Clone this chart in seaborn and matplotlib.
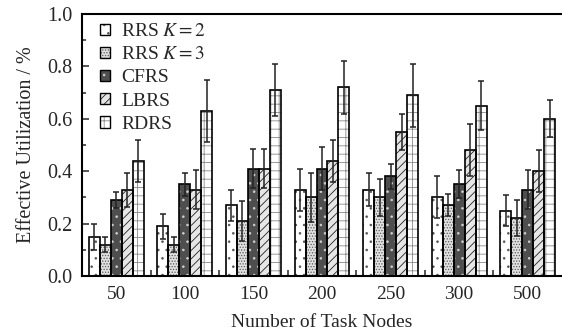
import numpy as np
import pandas as pd
import matplotlib
matplotlib.use("Agg")
import matplotlib.pyplot as plt
import seaborn as sns
from matplotlib.patches import Patch
from matplotlib.ticker import FixedLocator

# ---- data ----
nodes = ["50", "100", "150", "200", "250", "300", "500"]
methods = ["RRS $K=2$", "RRS $K=3$", "CFRS", "LBRS", "RDRS"]
rrs2 = [0.15, 0.19, 0.27, 0.33, 0.33, 0.30, 0.25]
rrs2_err = [0.05, 0.048, 0.06, 0.08, 0.063, 0.08, 0.061]
rrs3 = [0.12, 0.12, 0.21, 0.30, 0.30, 0.27, 0.22]
rrs3_err = [0.03, 0.027, 0.078, 0.095, 0.071, 0.042, 0.069]
cfrs = [0.29, 0.35, 0.41, 0.41, 0.38, 0.35, 0.33]
cfrs_err = [0.03, 0.043, 0.073, 0.083, 0.048, 0.053, 0.073]
lbrs = [0.33, 0.33, 0.41, 0.44, 0.55, 0.48, 0.40]
lbrs_err = [0.065, 0.073, 0.073, 0.08, 0.07, 0.10, 0.08]
rdrs = [0.44, 0.63, 0.71, 0.72, 0.69, 0.65, 0.60]
rdrs_err = [0.08, 0.117, 0.10, 0.10, 0.12, 0.093, 0.07]
yticks = [0.0, 0.2, 0.4, 0.6, 0.8, 1.0]
ytick_labels = ["0.0", "0.2", "0.4", "0.6", "0.8", "1.0"]

series = [rrs2, rrs3, cfrs, lbrs, rdrs]
errors = [rrs2_err, rrs3_err, cfrs_err, lbrs_err, rdrs_err]

df = pd.DataFrame({
    "node": nodes * len(methods),
    "value": sum(series, []),
    "method": sum([[m] * len(nodes) for m in methods], []),
})

# ---- style ----
sns.set_style("white")
plt.rcParams["font.family"] = ["Liberation Serif", "DejaVu Serif"]
plt.rcParams["mathtext.fontset"] = "stix"
plt.rcParams["hatch.linewidth"] = 0.6

faces = ["#ffffff", "#e0e0e0", "#4e4e4e", "#e6e6e6", "#ffffff"]
hatch_cols = ["#555555", "#5a5a5a", "#d0d0d0", "#222222", "#8a8a8a"]
hatches = ["..", "......", "..", "////", "++"]

fig = plt.figure(figsize=(5.62, 3.32), dpi=100)
ax = fig.add_axes([82 / 562, 1 - 276 / 332, 1 - 82 / 562, (276 - 14) / 332])

sns.barplot(data=df, x="node", y="value", hue="method", order=nodes,
            hue_order=methods, palette=faces, saturation=1, errorbar=None,
            width=0.8, linewidth=0, ax=ax, legend=False)
for i, cont in enumerate(ax.containers[:5]):
    for p in cont.patches:
        p.set_hatch(hatches[i])
        p.set_edgecolor(hatch_cols[i])
        p.set_linewidth(0)

sns.barplot(data=df, x="node", y="value", hue="method", order=nodes,
            hue_order=methods, palette=["black"] * 5, fill=False,
            errorbar=None, width=0.8, linewidth=1.2, ax=ax, legend=False)

for i, cont in enumerate(ax.containers[:5]):
    xs = [p.get_x() + p.get_width() / 2 for p in cont.patches]
    ax.errorbar(xs, series[i], yerr=errors[i], fmt="none", ecolor="#222222",
                elinewidth=1.1, capsize=2, capthick=1.1, zorder=5)

# ---- axes ----
ax.set_xlim(-0.5, 6.5)
ax.set_ylim(0, 1.0)
ax.yaxis.set_major_locator(FixedLocator(yticks))
ax.set_yticklabels(ytick_labels)
ax.yaxis.set_minor_locator(FixedLocator(np.arange(0.1, 1.0, 0.2)))
ax.xaxis.set_minor_locator(FixedLocator(np.arange(0.5, 6.0, 1.0)))
ax.tick_params(axis="x", which="major", length=0, pad=7, labelsize=14)
ax.tick_params(axis="x", which="minor", direction="in", length=4, width=1.1, bottom=True)
ax.tick_params(axis="y", which="major", direction="in", length=5, width=1.1, pad=7, labelsize=14.5, left=True)
ax.tick_params(axis="y", which="minor", direction="in", length=3, width=1.1, left=True)

for s in ["top", "left", "bottom"]:
    ax.spines[s].set_linewidth(1.5)
    ax.spines[s].set_color("black")
ax.spines["right"].set_visible(False)

ax.set_xlabel("Number of Task Nodes", fontsize=14, labelpad=8)
ax.set_ylabel("Effective Utilization / %", fontsize=14.5, labelpad=8)

handles = [(Patch(facecolor=faces[i], hatch=hatches[i], edgecolor=hatch_cols[i], linewidth=0),
            Patch(fill=False, edgecolor="black", linewidth=1.0)) for i in range(5)]
ax.legend(handles, methods, loc="upper left", bbox_to_anchor=(0.013, 1.01),
          frameon=False, fontsize=14, handlelength=0.5, handleheight=0.5,
          handletextpad=0.6, labelspacing=0.32, borderaxespad=0.2)

fig.savefig("out.png", dpi=100)
